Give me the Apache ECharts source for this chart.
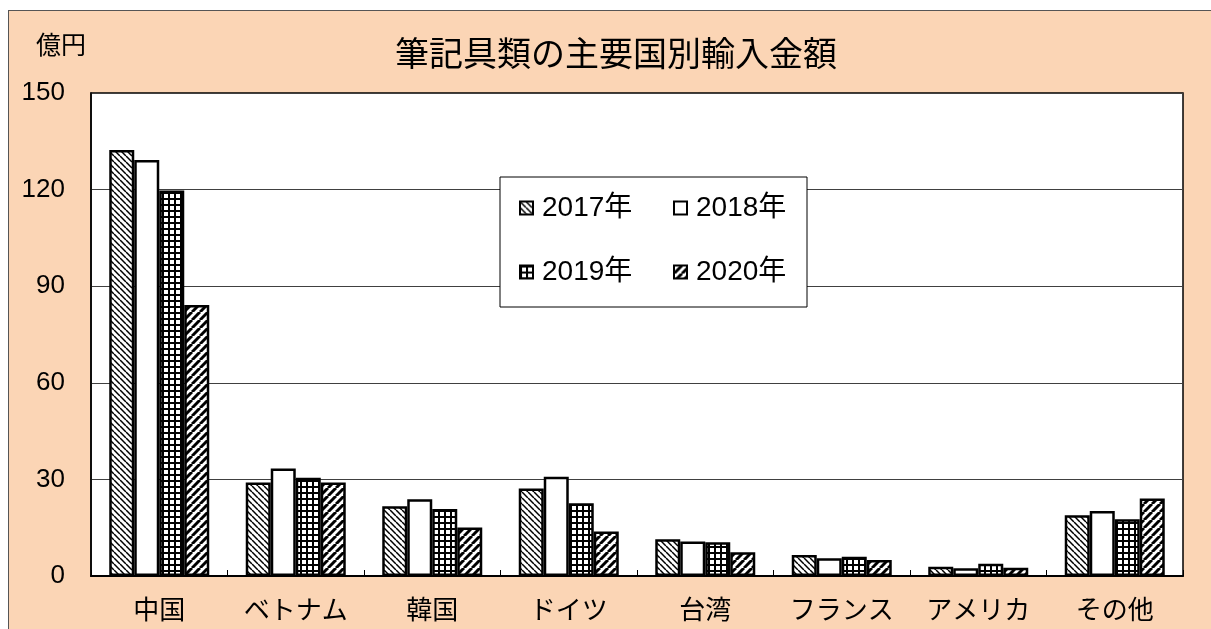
<!DOCTYPE html>
<html>
<head>
<meta charset="utf-8">
<script src="https://cdn.jsdelivr.net/npm/echarts@6/dist/echarts.min.js"></script>
<style>
  html, body { margin: 0; padding: 0; background: #fff; overflow: hidden; }
  .frame {
    position: absolute; left: 8px; top: 10px; width: 1300px; height: 700px;
    background: #fbd5b5; border: 1px solid #555;
  }
  #chart { position: absolute; left: 0; top: 0; width: 1211px; height: 629px; }
</style>
</head>
<body>
<div class="frame"></div>
<div id="chart"></div>
<script>
const categories = ['中国', 'ベトナム', '韓国', 'ドイツ', '台湾', 'フランス', 'アメリカ', 'その他']
const seriesNames = ['2017年', '2018年', '2019年', '2020年']
const v2017 = [132.3, 29.0, 21.7, 27.2, 11.4, 6.5, 2.9, 18.9]
const v2018 = [129.2, 33.4, 23.8, 30.8, 10.7, 5.5, 2.4, 20.2]
const v2019 = [119.7, 30.5, 20.8, 22.6, 10.5, 6.0, 3.8, 17.6]
const v2020 = [84.2, 29.0, 15.1, 13.8, 7.4, 5.0, 2.6, 24.1]
const yTicks = [0, 30, 60, 90, 120, 150]

const FONT = "'Liberation Sans', Arial, 'Noto Sans CJK JP', sans-serif"

// hatch fills like the excel patterns
const makePattern = (kind) => {
  const c = document.createElement('canvas')
  const size = kind === 'wide' ? 8 : 6
  c.width = size
  c.height = size
  const ctx = c.getContext('2d')
  ctx.fillStyle = '#fff'
  ctx.fillRect(0, 0, size, size)
  ctx.strokeStyle = '#000'
  if (kind === 'fine') {
    ctx.lineWidth = 1.5
    for (let o = -size; o <= size; o += size) {
      ctx.beginPath()
      ctx.moveTo(o, 0)
      ctx.lineTo(o + size, size)
      ctx.stroke()
    }
  } else if (kind === 'grid') {
    ctx.fillStyle = '#000'
    ctx.fillRect(0, 0, size, 2)
    ctx.fillRect(0, 0, 2, size)
  } else if (kind === 'wide') {
    ctx.lineWidth = 3
    for (let o = -size; o <= size; o += size) {
      ctx.beginPath()
      ctx.moveTo(o, size)
      ctx.lineTo(o + size, 0)
      ctx.stroke()
    }
  }
  return { image: c, repeat: 'repeat' }
}

const fills = [makePattern('fine'), '#fff', makePattern('grid'), makePattern('wide')]
const values = [v2017, v2018, v2019, v2020]

const legendPos = [
  { left: 519, top: 194 },
  { left: 673, top: 194 },
  { left: 519, top: 258 },
  { left: 673, top: 258 },
]

const chart = echarts.init(document.getElementById('chart'))

const option = {
  animation: false,
  backgroundColor: 'transparent',
  textStyle: { fontFamily: FONT },
  title: {
    text: '筆記具類の主要国別輸入金額',
    left: 395,
    top: 40,
    padding: 0,
    textStyle: { fontSize: 34, fontWeight: 'normal', color: '#000', fontFamily: FONT },
  },
  legend: seriesNames.map((name, i) => ({
    data: [name],
    left: legendPos[i].left,
    top: legendPos[i].top,
    padding: 0,
    itemWidth: 13,
    itemHeight: 13,
    icon: 'rect',
    selectedMode: false,
    z: 6,
    textStyle: { fontSize: 28, color: '#000', fontFamily: FONT, padding: [0, 0, 0, 4], lineHeight: 28 },
  })),
  graphic: [
    {
      type: 'rect',
      z: 3,
      shape: { x: 500, y: 177, width: 307, height: 130 },
      style: { fill: '#fff', stroke: '#000', lineWidth: 1 },
    },
    {
      type: 'text',
      z: 5,
      left: 36,
      top: 35,
      style: { text: '億円', fontSize: 25, fill: '#000', fontFamily: FONT },
    },
  ],
  grid: {
    left: 91,
    top: 93,
    right: 28,
    bottom: 53,
    show: true,
    backgroundColor: '#fff',
    borderColor: '#000',
    borderWidth: 1.5,
  },
  xAxis: {
    type: 'category',
    data: categories,
    boundaryGap: true,
    axisLine: { lineStyle: { color: '#000', width: 2 } },
    axisTick: { show: true, inside: true, length: 6, lineStyle: { color: '#000', width: 1 } },
    axisLabel: { fontSize: 26, color: '#000', margin: 23, fontFamily: FONT },
    splitLine: { show: false },
  },
  yAxis: {
    type: 'value',
    min: yTicks[0],
    max: yTicks[yTicks.length - 1],
    interval: 30,
    axisLine: { show: true, lineStyle: { color: '#000', width: 1.5 } },
    axisTick: { show: false },
    axisLabel: { fontSize: 26, color: '#000', margin: 26, fontFamily: FONT },
    splitLine: { lineStyle: { color: '#404040', width: 1 } },
  },
  series: seriesNames.map((name, i) => ({
    name,
    type: 'bar',
    data: values[i],
    barWidth: 25,
    barGap: '0%',
    z: 2,
    itemStyle: {
      color: fills[i],
      borderColor: '#000',
      borderWidth: 2.5,
    },
  })),
}

chart.setOption(option)
</script>
</body>
</html>
